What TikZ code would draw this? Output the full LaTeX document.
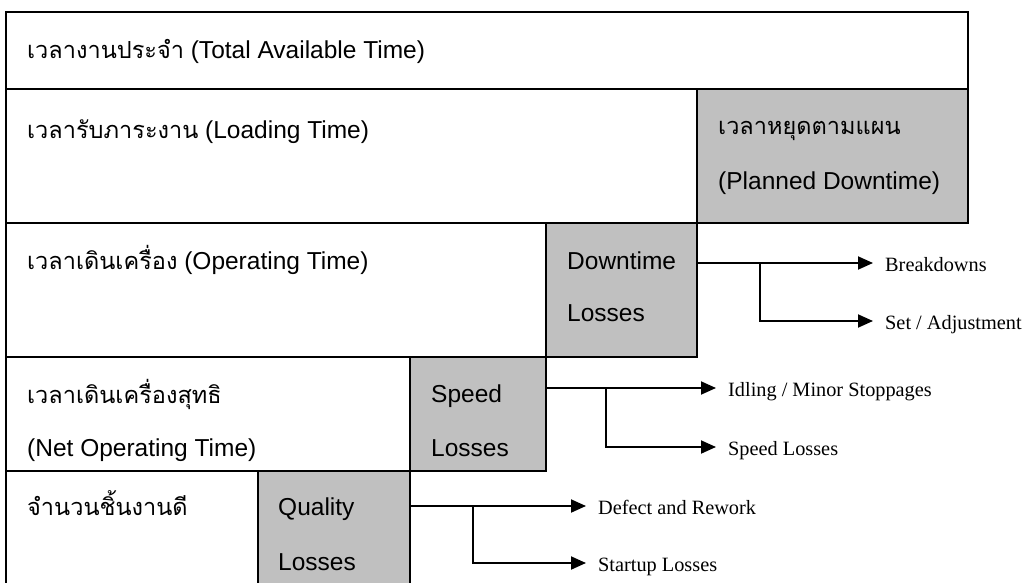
\documentclass[tikz,border=0pt]{standalone}
\usepackage{fontspec}
\setmainfont{Liberation Sans}
\newfontfamily\thaifont[Script=Thai,Scale=0.96]{Loma}
\newfontfamily\sideserif{Liberation Serif}
\usetikzlibrary{arrows.meta,fit}

\begin{document}
\begin{tikzpicture}[x=1pt,y=-1pt,
  panel/.style={draw=black, line width=1.9pt, fill=white, inner sep=0pt, outer sep=0pt},
  lossbox/.style={panel, fill=lossgray},
  lbl/.style={anchor=west, inner sep=0pt, text height=17.5pt, text depth=0pt,
              font=\fontsize{24.5}{28}\selectfont},
  sidelbl/.style={anchor=west, inner xsep=12pt, inner ysep=0pt, text height=17.4pt,
                  text depth=0pt, font=\sideserif\fontsize{20.3}{24}\selectfont},
  arr/.style={draw=black, line width=1.9pt, -{Triangle[length=15pt,width=13pt]}}]
\definecolor{lossgray}{HTML}{C0C0C0}
\useasboundingbox (0,0) rectangle (1031,583);

% time layers
\node[panel, fit={(6,12) (968,89)}] (total) {};
\node[panel, fit={(6,89) (697,223)}] (loading) {};
\node[lossbox, fit={(697,89) (968,223)}] (planned) {};
\node[panel, fit={(6,223) (546,357)}] (operating) {};
\node[lossbox, fit={(546,223) (697,357)}] (downtime) {};
\node[panel, fit={(6,357) (410,471)}] (netop) {};
\node[lossbox, fit={(410,357) (546,471)}] (speed) {};
\node[panel, fit={(6,471) (258,600)}] (good) {};
\node[lossbox, fit={(258,471) (410,600)}] (quality) {};

% layer captions
\node[lbl] (totalT) at ([shift={(21,38)}]total.north west)
  {{\thaifont เวลางานประจำ} (Total Available Time)};
\node[lbl] (loadingT) at ([shift={(21,41)}]loading.north west)
  {{\thaifont เวลารับภาระงาน} (Loading Time)};
\node[lbl] (plannedT1) at ([shift={(21,37)}]planned.north west)
  {\thaifont เวลาหยุดตามแผน};
\node[lbl] (plannedT2) at ([shift={(21,92)}]planned.north west)
  {(Planned Downtime)};
\node[lbl] (operatingT) at ([shift={(21,38)}]operating.north west)
  {{\thaifont เวลาเดินเครื่อง} (Operating Time)};
\node[lbl] (downtimeT1) at ([shift={(21,38)}]downtime.north west) {Downtime};
\node[lbl] (downtimeT2) at ([shift={(21,90)}]downtime.north west) {Losses};
\node[lbl] (netopT1) at ([shift={(21,38)}]netop.north west)
  {\thaifont เวลาเดินเครื่องสุทธิ};
\node[lbl] (netopT2) at ([shift={(21,91)}]netop.north west)
  {(Net Operating Time)};
\node[lbl] (speedT1) at ([shift={(21,37)}]speed.north west) {Speed};
\node[lbl] (speedT2) at ([shift={(21,91)}]speed.north west) {Losses};
\node[lbl] (goodT) at ([shift={(21,36)}]good.north west)
  {\thaifont จำนวนชิ้นงานดี};
\node[lbl] (qualityT1) at ([shift={(20,36)}]quality.north west) {Quality};
\node[lbl] (qualityT2) at ([shift={(20,91)}]quality.north west) {Losses};

% loss categories
\node[sidelbl] (breakdowns) at (873,263) {Breakdowns};
\node[sidelbl] (setadj) at (873,321) {Set / Adjustment};
\node[sidelbl] (idling) at (716,388) {Idling / Minor Stoppages};
\node[sidelbl] (speedloss) at (716,447) {Speed Losses};
\node[sidelbl] (defect) at (586,506) {Defect and Rework};
\node[sidelbl] (startup) at (586,563) {Startup Losses};

% branch points
\coordinate (dtj) at (760,263);
\coordinate (spj) at (606,388);
\coordinate (qlj) at (473,506);

% connectors
\draw[arr] (downtime.east |- breakdowns.west) -- (breakdowns.west);
\draw[arr] (dtj) |- (setadj.west);
\draw[arr] (speed.east |- idling.west) -- (idling.west);
\draw[arr] (spj) |- (speedloss.west);
\draw[arr] (quality.east |- defect.west) -- (defect.west);
\draw[arr] (qlj) |- (startup.west);
\end{tikzpicture}
\end{document}
